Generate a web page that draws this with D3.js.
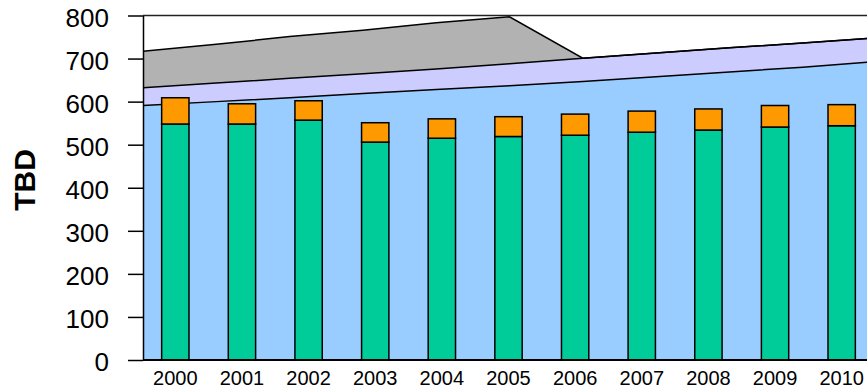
<!DOCTYPE html>
<html>
<head>
<meta charset="utf-8">
<script src="https://cdn.jsdelivr.net/npm/d3@7"></script>
<style>
  body { margin: 0; background: #fff; }
  svg { display: block; font-family: "Liberation Sans", Arial, sans-serif; }
</style>
</head>
<body>
<div id="chart"></div>
<script>
// data
const years = ["2000", "2001", "2002", "2003", "2004", "2005", "2006", "2007", "2008", "2009", "2010"];
const greenVals = [548, 548, 557, 506, 515, 519, 522, 529, 534, 541, 544];
const orangeVals = [61, 47, 45, 45, 45, 46, 49, 49, 49, 50, 49];
const blueVals = [591, 600, 609, 619, 628, 637, 647, 658, 669, 680, 693];
const purpleVals = [41, 43, 45, 46, 48, 51, 54, 55, 56, 56, 55];
const greyVals = [85, 90, 97, 101, 107, 109, 0, 0, 0, 0, 0];
const yTicks = [0, 100, 200, 300, 400, 500, 600, 700, 800];
const yTitle = "TBD";

const W = 867, H = 389;
const plotLeft = 143, plotTop = 15.5, plotBottom = 360;

const svg = d3.select("#chart")
    .append("svg")
    .attr("width", W)
    .attr("height", H);

const y = d3.scaleLinear().domain([0, 800]).range([plotBottom, plotTop]);
const xBand = d3.scaleBand().domain(years).range([142, 875])
    .paddingInner(0.59).paddingOuter(0.295);
const xPoint = d3.scalePoint().domain(years).range([plotLeft, 876]);

// stacked areas behind the bars
const areaTable = years.map((yr, i) => ({year: yr, blue: blueVals[i], purple: purpleVals[i], grey: greyVals[i]}));
const areaKeys = ["blue", "purple", "grey"];
const areaColor = {blue: "#99ccff", purple: "#ccccff", grey: "#b2b2b2"};
const stacked = d3.stack().keys(areaKeys)(areaTable);

svg.append("clipPath").attr("id", "plotClip")
    .append("rect").attr("x", plotLeft).attr("y", 0).attr("width", W - plotLeft).attr("height", plotBottom);

const plot = svg.append("g").attr("clip-path", "url(#plotClip)");

const area = d3.area()
    .x(d => xPoint(d.data.year))
    .y0(d => y(d[0]))
    .y1(d => y(d[1]));
const topLine = d3.line()
    .x(d => xPoint(d.data.year))
    .y(d => y(d[1]));

plot.selectAll(".layer")
    .data(stacked)
    .join("path")
    .attr("class", "layer")
    .attr("d", area)
    .attr("fill", d => areaColor[d.key]);

plot.selectAll(".edge")
    .data(stacked)
    .join("path")
    .attr("class", "edge")
    .attr("d", topLine)
    .attr("fill", "none")
    .attr("stroke", "#000")
    .attr("stroke-width", 1.5);

// stacked bars
const bars = plot.append("g");
years.forEach((yr, i) => {
    bars.append("rect")
        .attr("x", xBand(yr))
        .attr("width", xBand.bandwidth())
        .attr("y", y(greenVals[i]))
        .attr("height", y(0) - y(greenVals[i]))
        .attr("fill", "#00cc99")
        .attr("stroke", "#000")
        .attr("stroke-width", 1.5);
    bars.append("rect")
        .attr("x", xBand(yr))
        .attr("width", xBand.bandwidth())
        .attr("y", y(greenVals[i] + orangeVals[i]))
        .attr("height", y(greenVals[i]) - y(greenVals[i] + orangeVals[i]))
        .attr("fill", "#ff9900")
        .attr("stroke", "#000")
        .attr("stroke-width", 1.5);
});

// top border at 800
svg.append("line")
    .attr("x1", plotLeft).attr("x2", W)
    .attr("y1", y(800)).attr("y2", y(800))
    .attr("stroke", "#222").attr("stroke-width", 1.3);

// y axis
const yAxis = svg.append("g")
    .attr("transform", `translate(${plotLeft},0)`)
    .call(d3.axisLeft(y).tickValues(yTicks).tickSize(15).tickPadding(19).tickSizeOuter(0));
yAxis.select(".domain").attr("stroke", "#000").attr("stroke-width", 1.5);
yAxis.selectAll(".tick line").attr("stroke", "#000").attr("stroke-width", 1.5);
yAxis.selectAll(".tick text")
    .attr("fill", "#000")
    .style("font-size", "26px")
    .style("font-family", "'Liberation Sans', Arial, sans-serif")
    .attr("dy", "0.42em");

// x axis
const xAxis = svg.append("g")
    .attr("transform", `translate(0,${plotBottom})`)
    .call(d3.axisBottom(xBand).tickSize(0).tickPadding(11).tickSizeOuter(0));
xAxis.select(".domain").remove();
xAxis.append("line")
    .attr("x1", plotLeft).attr("x2", W)
    .attr("stroke", "#000").attr("stroke-width", 2);
xAxis.selectAll(".tick text")
    .attr("fill", "#000")
    .style("font-size", "20px")
    .style("font-family", "'Liberation Sans', Arial, sans-serif");

// title
svg.append("text")
    .attr("transform", "translate(35,180) rotate(-90)")
    .attr("text-anchor", "middle")
    .style("font-size", "30px")
    .style("font-weight", "bold")
    .text(yTitle);
</script>
</body>
</html>
